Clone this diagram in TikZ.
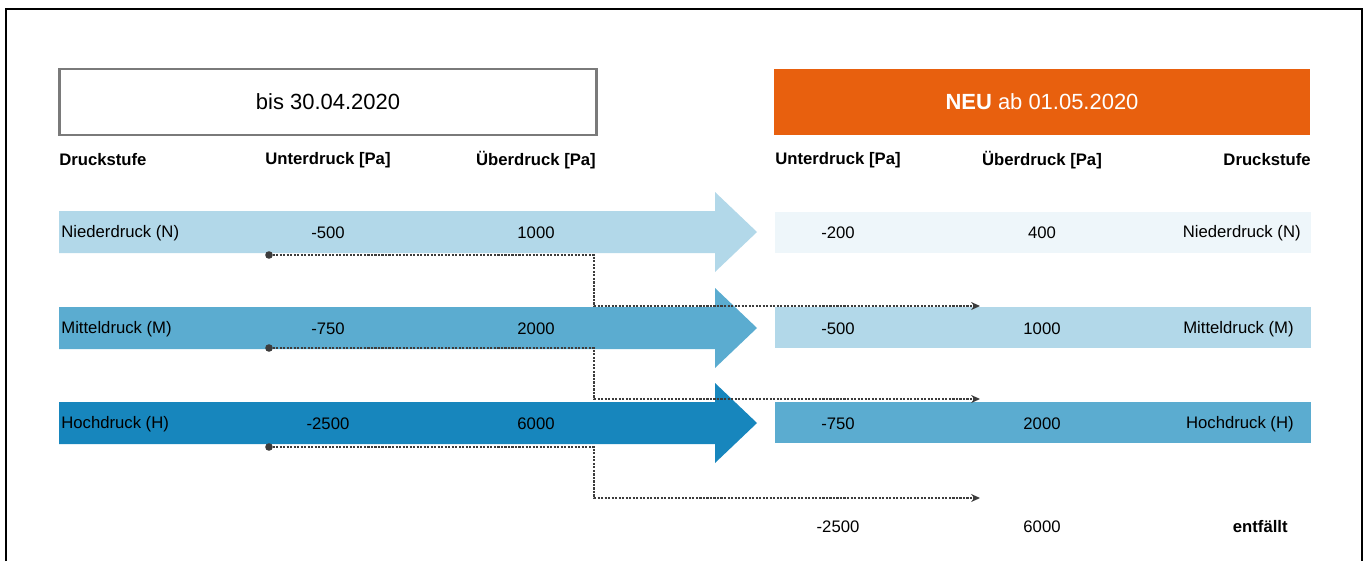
\documentclass[tikz,border=0pt]{standalone}
\usepackage{fontspec}
\setmainfont{Liberation Sans}
\usetikzlibrary{calc}
\usetikzlibrary{arrows.meta}
\definecolor{orangeneu}{HTML}{E8600E}
\definecolor{blassblau}{HTML}{EEF6FA}
\definecolor{hellblau}{HTML}{B2D8E9}
\definecolor{mittelblau}{HTML}{5BACD0}
\definecolor{dunkelblau}{HTML}{1786BD}
\definecolor{rahmengrau}{HTML}{7A7A7A}
\definecolor{punktgrau}{HTML}{3C3C3C}
\tikzstyle{every node}=[font=\fontsize{9.5}{11}\selectfont,inner sep=0pt]
\tikzstyle{every path}=[line cap=butt,line join=miter]
% breiter Pfeil von links nach rechts: Name, Mitte (y), Farbe
\newcommand{\pfeil}[3]{\fill[#3] (59,#2-21) coordinate (#1) -- (715,#2-21) -- (715,#2-40) -- (757,#2)
	-- (715,#2+40) -- (715,#2+21) -- (59,#2+21) -- cycle;}

\begin{document}
\begin{tikzpicture}[x=0.02cm,y=-0.02cm]
		\tikzstyle{titel} = [font=\fontsize{12.5}{14}\selectfont,minimum height=1.33cm]
		\tikzstyle{kopf} = [font=\bfseries\fontsize{9.5}{11}\selectfont]
		\tikzstyle{band} = [minimum width=10.72cm,minimum height=0.82cm]
		\tikzstyle{punkte} = [punktgrau,line width=1.4pt,dash pattern=on 1.2pt off 0.8pt]
		\tikzstyle{arrow} = [-{Stealth[length=5pt, width=4.5pt]}]
		
		\useasboundingbox (0,0) rectangle (1365,561);
		\draw[line width=1.6pt] (6,561) -- (6,9) -- (1362,9) -- (1362,561);
		
		% Kopfzeilen
		\node[titel,draw=rahmengrau,line width=1.3pt,minimum width=10.74cm] (alt) at (328,102) {bis 30.04.2020};
		\node[titel,fill=orangeneu,text=white,minimum width=10.72cm] (neu) at (1042,102) {\textbf{NEU} ab 01.05.2020};
		
		\node[kopf,anchor=west] (hStufeA) at (59,160) {Druckstufe};
		\node[kopf] (hUnterA) at (328,160) {Unterdruck [Pa]};
		\node[kopf] (hUeberA) at (536,160) {Überdruck [Pa]};
		\node[kopf] (hUnterB) at (838,160) {Unterdruck [Pa]};
		\node[kopf] (hUeberB) at (1042,160) {Überdruck [Pa]};
		\node[kopf,anchor=east] (hStufeB) at (1311,160) {Druckstufe};
		
		% alte Stufen
		\pfeil{pN}{232}{hellblau}
		\pfeil{pM}{328}{mittelblau}
		\pfeil{pH}{423}{dunkelblau}
		
		\node[anchor=west] (aN) at (61,233) {Niederdruck (N)};
		\node (aNu) at (328,233) {-500};
		\node (aNo) at (536,233) {1000};
		\node[anchor=west] (aM) at (61,329) {Mitteldruck (M)};
		\node (aMu) at (328,329) {-750};
		\node (aMo) at (536,329) {2000};
		\node[anchor=west] (aH) at (61,424) {Hochdruck (H)};
		\node (aHu) at (328,424) {-2500};
		\node (aHo) at (536,424) {6000};
		
		% neue Stufen
		\node[band,fill=blassblau] (bN) at (1043,232.5) {};
		\node[band,fill=hellblau] (bM) at (1043,327.5) {};
		\node[band,fill=mittelblau] (bH) at (1043,422.5) {};
		
		\node (nNu) at (838,233) {-200};
		\node (nNo) at (1042,233) {400};
		\node[anchor=east] (nN) at (1301,233) {Niederdruck (N)};
		\node (nMu) at (838,329) {-500};
		\node (nMo) at (1042,329) {1000};
		\node[anchor=east] (nM) at (1294,329) {Mitteldruck (M)};
		\node (nHu) at (838,424) {-750};
		\node (nHo) at (1042,424) {2000};
		\node[anchor=east] (nH) at (1294,424) {Hochdruck (H)};
		\node (xu) at (838,527) {-2500};
		\node (xo) at (1042,527) {6000};
		\node[kopf,anchor=east] (xw) at (1288,527) {entfällt};
		
		% Verschiebung der Werte
		\coordinate (sN) at (269,255);
		\coordinate (sM) at (269,348);
		\coordinate (sH) at (269,447);
		\coordinate (kN) at (594,306);
		\coordinate (kM) at (594,399);
		\coordinate (kH) at (594,498);
		\coordinate (zN) at (980,306);
		\coordinate (zM) at (980,399);
		\coordinate (zH) at (980,498);
		
		\draw[punkte,arrow] (sN) -| (kN) -- (zN);
		\draw[punkte,arrow] (sM) -| (kM) -- (zM);
		\draw[punkte,arrow] (sH) -| (kH) -- (zH);
		\fill[punktgrau] (sN) circle (3.8);
		\fill[punktgrau] (sM) circle (3.8);
		\fill[punktgrau] (sH) circle (3.8);
		
	\end{tikzpicture}
\end{document}
